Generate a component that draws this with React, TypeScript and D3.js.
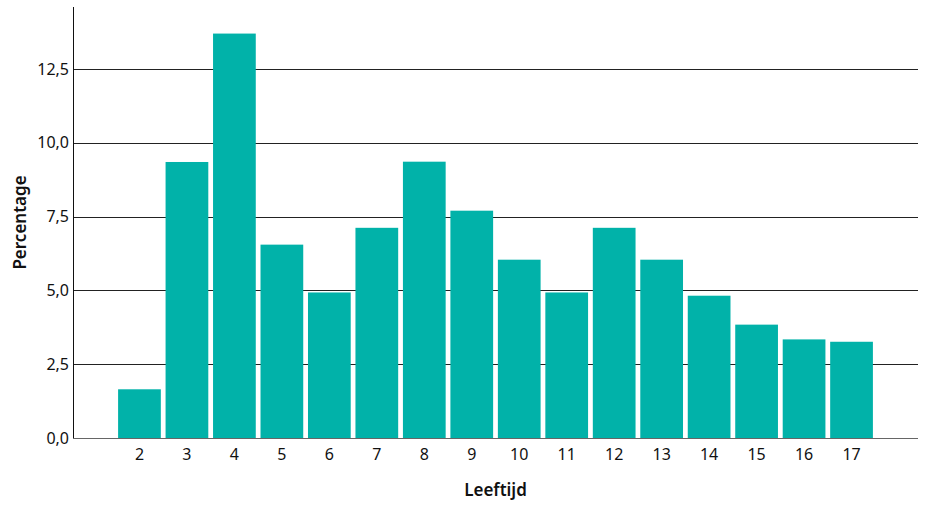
import React, { useEffect, useRef } from "react";
import * as d3 from "d3";

const ages = ["2", "3", "4", "5", "6", "7", "8", "9", "10", "11", "12", "13", "14", "15", "16", "17"];
const percentages = [1.65, 9.35, 13.7, 6.55, 4.93, 7.12, 9.36, 7.7, 6.04, 4.93, 7.12, 6.04, 4.82, 3.84, 3.34, 3.26];
const yTicks = [0, 2.5, 5, 7.5, 10, 12.5];

const App = () => {
  const svgRef = useRef<SVGSVGElement>(null);

  useEffect(() => {
    const width = 926;
    const height = 507;
    const margin = { top: 7, right: 8, bottom: 69, left: 73 };
    const font = "'Noto Sans', sans-serif";

    const svg = d3.select(svgRef.current);
    svg.selectAll("*").remove();
    svg.attr("width", width).attr("height", height);

    const x = d3
      .scaleBand()
      .domain(ages)
      .range([margin.left, width - margin.right])
      .paddingInner(0.1)
      .paddingOuter(0.95);

    const y = d3
      .scaleLinear()
      .domain([0, 14.6])
      .range([height - margin.bottom, margin.top]);

    // gridlines
    svg
      .append("g")
      .selectAll("line")
      .data(yTicks)
      .enter()
      .append("line")
      .attr("x1", margin.left)
      .attr("x2", width - margin.right)
      .attr("y1", (d) => Math.round(y(d)) + 0.5)
      .attr("y2", (d) => Math.round(y(d)) + 0.5)
      .attr("stroke", (d) => (d === 0 ? "#666" : "#222"))
      .attr("stroke-width", 1);

    // bars
    svg
      .append("g")
      .selectAll("rect")
      .data(ages.map((a, i) => ({ a, v: percentages[i] })))
      .enter()
      .append("rect")
      .attr("x", (d) => x(d.a)!)
      .attr("y", (d) => y(d.v))
      .attr("width", x.bandwidth())
      .attr("height", (d) => y(0) - y(d.v))
      .attr("fill", "#01b2a9");

    // y axis line
    svg
      .append("line")
      .attr("x1", margin.left + 0.5)
      .attr("x2", margin.left + 0.5)
      .attr("y1", margin.top)
      .attr("y2", y(0))
      .attr("stroke", "#111");

    // y tick labels
    const fmt = (d: number) => d.toFixed(1).replace(".", ",");
    svg
      .append("g")
      .selectAll("text")
      .data(yTicks)
      .enter()
      .append("text")
      .attr("x", margin.left - 4)
      .attr("y", (d) => y(d))
      .attr("dy", "0.35em")
      .attr("text-anchor", "end")
      .attr("font-family", font)
      .attr("font-size", 16)
      .attr("fill", "#111")
      .text(fmt);

    // x tick labels
    svg
      .append("g")
      .selectAll("text")
      .data(ages)
      .enter()
      .append("text")
      .attr("x", (d) => x(d)! + x.bandwidth() / 2)
      .attr("y", 460)
      .attr("text-anchor", "middle")
      .attr("font-family", font)
      .attr("font-size", 16)
      .attr("fill", "#111")
      .text((d) => d);

    // axis titles
    svg
      .append("text")
      .attr("x", (margin.left + width - margin.right) / 2)
      .attr("y", 496)
      .attr("text-anchor", "middle")
      .attr("font-family", font)
      .attr("font-size", 17)
      .attr("font-weight", 600)
      .attr("fill", "#111")
      .text("Leeftijd");

    svg
      .append("text")
      .attr("transform", `translate(26,${(margin.top + y(0)) / 2}) rotate(-90)`)
      .attr("text-anchor", "middle")
      .attr("font-family", font)
      .attr("font-size", 17)
      .attr("font-weight", 600)
      .attr("fill", "#111")
      .text("Percentage");
  }, []);

  return (
    <div style={{ position: "absolute", left: 0, top: 0 }}>
      <svg ref={svgRef}></svg>
    </div>
  );
};

export default App;
